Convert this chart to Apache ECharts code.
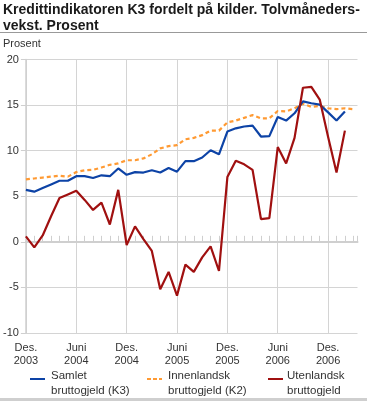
<!DOCTYPE html>
<html>
<head>
<meta charset="utf-8">
<script src="https://cdn.jsdelivr.net/npm/echarts@6/dist/echarts.min.js"></script>
<style>
html,body{margin:0;padding:0;background:#fff;}
#chart{width:367px;height:401px;}
</style>
</head>
<body>
<div id="chart"></div>
<script>
// Months from Des. 2003 to Mar. 2007
const months = [
  'Des. 2003','Jan. 2004','Feb. 2004','Mars 2004','Apr. 2004','Mai 2004','Juni 2004','Juli 2004','Aug. 2004','Sep. 2004','Okt. 2004','Nov. 2004',
  'Des. 2004','Jan. 2005','Feb. 2005','Mars 2005','Apr. 2005','Mai 2005','Juni 2005','Juli 2005','Aug. 2005','Sep. 2005','Okt. 2005','Nov. 2005',
  'Des. 2005','Jan. 2006','Feb. 2006','Mars 2006','Apr. 2006','Mai 2006','Juni 2006','Juli 2006','Aug. 2006','Sep. 2006','Okt. 2006','Nov. 2006',
  'Des. 2006','Jan. 2007','Feb. 2007','Mars 2007'
];
const tickLabels = ['Des.\n2003','Juni\n2004','Des.\n2004','Juni\n2005','Des.\n2005','Juni\n2006','Des.\n2006'];
const yTicks = [-10, -5, 0, 5, 10, 15, 20];

const samlet = [5.7,5.5,5.9,6.3,6.7,6.7,7.2,7.2,7.0,7.3,7.2,8.05,7.35,7.65,7.6,7.85,7.6,8.1,7.7,8.85,8.85,9.25,10.05,9.6,12.1,12.45,12.65,12.75,11.55,11.6,13.7,13.3,14.1,15.4,15.2,15.05,14.2,13.3,14.3];
const innenlandsk = [6.85,6.95,7.05,7.15,7.25,7.15,7.65,7.85,7.9,8.15,8.45,8.6,8.95,8.95,9.15,9.6,10.25,10.5,10.6,11.25,11.4,11.7,12.2,12.2,13.1,13.3,13.6,13.9,13.55,13.55,14.35,14.3,14.65,15.15,14.8,14.9,14.65,14.55,14.65,14.55];
const utenlandsk = [0.6,-0.6,0.7,2.8,4.8,5.2,5.6,4.6,3.5,4.3,1.9,5.7,-0.35,1.7,0.3,-1.0,-5.2,-3.3,-5.9,-2.5,-3.3,-1.7,-0.5,-3.2,7.1,8.9,8.5,7.9,2.5,2.6,10.4,8.6,11.4,16.9,17.0,15.6,11.5,7.6,12.2];

const FONT = 'Liberation Sans';
const toPairs = arr => arr.map((v, i) => [i, v]);

const chart = echarts.init(document.getElementById('chart'), null, {renderer: 'canvas'});
chart.setOption({
  animation: false,
  textStyle: {fontFamily: FONT},
  title: {
    text: 'Kredittindikatoren K3 fordelt på kilder. Tolvmåneders-\nvekst. Prosent',
    left: 3, top: 2, padding: 0,
    textStyle: {fontFamily: FONT, fontSize: 14, fontWeight: 'bold', color: '#1a1a1a', lineHeight: 16}
  },
  grid: {left: 23, top: 59.5, width: 334.5, height: 273.5, containLabel: false},
  xAxis: [{
    type: 'value', min: 0, max: 39.5, interval: 6,
    axisLine: {show: false, onZero: false},
    axisTick: {show: false},
    splitLine: {show: true, showMaxLine: false, lineStyle: {color: '#d4d4d4', width: 1}},
    axisLabel: {
      margin: 8, fontSize: 11, color: '#333', lineHeight: 13.5, fontFamily: FONT,
      showMaxLabel: false,
      formatter: v => (v % 6 === 0 && tickLabels[v / 6]) ? tickLabels[v / 6] : ''
    }
  }, {
    type: 'value', min: 0, max: 39.5, interval: 1, position: 'bottom',
    axisLine: {show: true, onZero: true, lineStyle: {color: '#cfcfcf', width: 2}},
    axisTick: {show: true, inside: true, length: 6, lineStyle: {color: '#cfcfcf', width: 1}},
    axisLabel: {show: false},
    splitLine: {show: false}
  }],
  yAxis: {
    type: 'value', min: -10, max: 20, interval: 5,
    axisLine: {show: true, lineStyle: {color: '#cfcfcf', width: 1.5}},
    axisTick: {show: true, length: 5, lineStyle: {color: '#cfcfcf'}},
    splitLine: {show: true, lineStyle: {color: '#d4d4d4', width: 1}},
    axisLabel: {margin: 7, fontSize: 11, color: '#333', fontFamily: FONT}
  },
  series: [
    {name: 'Samlet bruttogjeld (K3)', type: 'line', data: toPairs(samlet), showSymbol: false, symbol: 'none',
     lineStyle: {color: '#0d43a6', width: 2.2}, z: 3},
    {name: 'Innenlandsk bruttogjeld (K2)', type: 'line', data: toPairs(innenlandsk), showSymbol: false, symbol: 'none',
     lineStyle: {color: '#ff9a33', width: 2.2, type: [4, 3]}, z: 2},
    {name: 'Utenlandsk bruttogjeld', type: 'line', data: toPairs(utenlandsk), showSymbol: false, symbol: 'none',
     lineStyle: {color: '#a01010', width: 2.2}, z: 4}
  ],
  graphic: [
    {type: 'line', shape: {x1: 0, y1: 32.5, x2: 367, y2: 32.5}, style: {stroke: '#999', lineWidth: 1}},
    {type: 'text', left: 3, top: 38, style: {text: 'Prosent', font: '11px ' + FONT, fill: '#333'}},
    {type: 'rect', shape: {x: 0, y: 398, width: 367, height: 3}, style: {fill: '#cfcfcf'}},
    {type: 'line', shape: {x1: 30, y1: 379, x2: 45, y2: 379}, style: {stroke: '#0d43a6', lineWidth: 2}},
    {type: 'text', x: 51, y: 369, style: {text: 'Samlet\nbruttogjeld (K3)', font: '11.5px ' + FONT, fill: '#333', lineHeight: 14.5}},
    {type: 'line', shape: {x1: 147, y1: 379, x2: 162, y2: 379}, style: {stroke: '#ff9a33', lineWidth: 2, lineDash: [4, 2]}},
    {type: 'text', x: 168, y: 369, style: {text: 'Innenlandsk\nbruttogjeld (K2)', font: '11.5px ' + FONT, fill: '#333', lineHeight: 14.5}},
    {type: 'line', shape: {x1: 268, y1: 379, x2: 283, y2: 379}, style: {stroke: '#a01010', lineWidth: 2}},
    {type: 'text', x: 287, y: 369, style: {text: 'Utenlandsk\nbruttogjeld', font: '11.5px ' + FONT, fill: '#333', lineHeight: 14.5}}
  ]
});
</script>
</body>
</html>
